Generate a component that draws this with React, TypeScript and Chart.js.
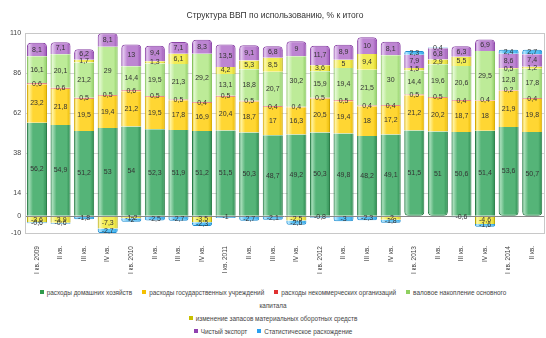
import React, { useEffect, useRef } from 'react';
import { Chart, registerables } from 'chart.js';

Chart.register(...registerables);
Chart.defaults.font.family = '"Liberation Sans", Arial, sans-serif';

const categories = ['I кв. 2009', 'II кв.', 'III кв.', 'IV кв.', 'I кв. 2010', 'II кв.', 'III кв.', 'IV кв.', 'I кв. 2011', 'II кв.', 'III кв.', 'IV кв.', 'I кв. 2012', 'II кв.', 'III кв.', 'IV кв.', 'I кв. 2013', 'II кв.', 'III кв.', 'IV кв.', 'I кв. 2014', 'II кв.'];

const households = [56.2, 54.9, 51.2, 53, 54, 52.3, 51.9, 51.2, 51.5, 50.3, 48.7, 49.2, 50.3, 49.8, 48.2, 49.1, 51.5, 51, 50.6, 51.4, 53.6, 50.7];
const government = [23.2, 21.8, 19.5, 19.4, 21.2, 19.5, 17.8, 16.9, 20.4, 18.7, 17, 16.3, 20.5, 19.4, 18, 17.2, 21.2, 20.2, 18.7, 18, 21.9, 19.8];
const nonprofit = [0.6, 0.6, 0.5, 0.5, 0.6, 0.5, 0.5, 0.4, 0.5, 0.5, 0.4, 0.4, 0.5, 0.5, 0.4, 0.4, 0.5, 0.5, 0.4, 0.4, 0.2, 0.4];
const fixedCapital = [16.1, 20.1, 21.2, 29, 14.4, 19.5, 21.3, 29.2, 13.1, 18.8, 20.7, 30.2, 15.9, 19.4, 21.5, 30, 14.4, 19.6, 20.6, 29.5, 12.8, 17.8];
const inventories = [-3.6, -3.9, 1.7, -7.3, -1.2, 1.3, 6.1, -3.5, 4.2, 5.3, 8.5, -2.5, 3.6, 5, 9.4, -2.0, 1.5, 2.9, 5.5, -4.6, 0.5, 1.2];
const netExports = [8.1, 7.1, 6.2, 8.1, 13, 9.4, 7.1, 8.3, 13.5, 9.1, 6.8, 9, 11.7, 8.9, 10, 8.1, 7.9, 6.8, 6.3, 6.9, 8.6, 7.4];
const discrepancy = [-0.6, -0.6, -1.8, -2.7, -2.0, -2.5, -2.7, -2.3, -1.0, -2.7, -2.1, -2.6, -0.8, -3.0, -2.3, -1.8, 2.3, 0.4, -0.6, -1.6, 2.4, 2.7];

const yTicks = [-10, 0, 14, 38, 62, 86, 110];

const seriesNames = [
  'расходы домашних хозяйств',
  'расходы государственных учреждений',
  'расходы некоммерческих организаций',
  'валовое накопление основного капитала',
  'изменение запасов материальных оборотных средств',
  'Чистый экспорт',
  'Статистическое расхождение',
];

// [edge, mid, highlight, border, legend]
const palettes: string[][] = [
  ['#2c8a50', '#55b478', '#a6ddb9', '#267a44', '#2f9a4a'],
  ['#e8b800', '#ffd633', '#fff3a0', '#d4a900', '#f5c000'],
  ['#c01818', '#e23030', '#f08080', '#b01010', '#e03030'],
  ['#8ccc62', '#bdeb98', '#e4f9d2', '#86c25c', '#8fd060'],
  ['#d8cc20', '#f2ec55', '#fbf8b0', '#b0a400', '#c8c000'],
  ['#9a52b4', '#bd85d2', '#e3c8ef', '#8a44a6', '#9040b0'],
  ['#2a9ee0', '#55bff5', '#b4e6ff', '#1c8cd0', '#2aa0f0'],
];

const seriesData = [households, government, nonprofit, fixedCapital, inventories, netExports, discrepancy];

function makeBg(p: string[]) {
  return (ctx: any) => {
    const chart = ctx.chart;
    const xs = chart.scales && chart.scales.x;
    if (!xs || ctx.type !== 'data' || !chart.chartArea) return p[1];
    const x = xs.getPixelForValue(ctx.dataIndex);
    const w = (xs.width / categories.length) * 0.85;
    const g = chart.ctx.createLinearGradient(x - w / 2, 0, x + w / 2, 0);
    g.addColorStop(0, p[0]);
    g.addColorStop(0.1, p[2]);
    g.addColorStop(0.3, p[1]);
    g.addColorStop(0.8, p[1]);
    g.addColorStop(1, p[0]);
    return g;
  };
}

const labelPlugin = {
  id: 'segLabels',
  afterDatasetsDraw(chart: any) {
    const ctx = chart.ctx;
    ctx.save();
    ctx.font = '7px "Liberation Sans", Arial, sans-serif';
    ctx.fillStyle = '#333';
    ctx.textAlign = 'center';
    ctx.textBaseline = 'middle';
    chart.data.datasets.forEach((ds: any, di: number) => {
      const meta = chart.getDatasetMeta(di);
      meta.data.forEach((bar: any, i: number) => {
        const v = ds.data[i];
        if (v == null || v === 0) return;
        const { x, y, base } = bar.getProps(['x', 'y', 'base'], true);
        ctx.fillText(String(v).replace('.', ','), x, (y + base) / 2);
      });
    });
    ctx.restore();
  },
};

const framePlugin = {
  id: 'frame',
  beforeDatasetsDraw(chart: any) {
    const { ctx, chartArea: a } = chart;
    ctx.save();
    ctx.strokeStyle = '#c8c8c8';
    ctx.lineWidth = 1;
    ctx.strokeRect(Math.round(a.left) + 0.5, Math.round(a.top) + 0.5, Math.round(a.right - a.left), Math.round(a.bottom - a.top));
    ctx.restore();
  },
};

const Marker = ({ color }: { color: string }) => (
  <span style={{ display: 'inline-block', width: 4, height: 4, background: color, marginRight: 3, verticalAlign: 'middle', position: 'relative', top: -1 }} />
);

export default function App() {
  const ref = useRef<HTMLCanvasElement | null>(null);
  useEffect(() => {
    if (!ref.current) return;
    const chart = new Chart(ref.current, {
      type: 'bar',
      data: {
        labels: categories,
        datasets: seriesData.map((d, i) => ({
          label: seriesNames[i],
          data: d,
          backgroundColor: makeBg(palettes[i]),
          borderColor: palettes[i][3],
          borderWidth: 1,
          borderRadius: 4,
          borderSkipped: 'middle' as any,
          barPercentage: 0.85,
          categoryPercentage: 1,
        })),
      },
      options: {
        animation: false,
        responsive: true,
        maintainAspectRatio: false,
        layout: { padding: { left: 6, right: 2, top: 0, bottom: 7 } },
        plugins: {
          legend: { display: false },
          tooltip: { enabled: false },
          title: {
            display: true,
            text: 'Структура ВВП по использованию, % к итого',
            color: '#333',
            font: { size: 8.5, weight: 'normal' },
            padding: { top: 11, bottom: 12 },
          },
        },
        scales: {
          x: {
            stacked: true,
            grid: { display: false },
            border: { display: false },
            ticks: { autoSkip: false, maxRotation: 90, minRotation: 90, color: '#444', font: { size: 6.5 }, padding: 5 },
          },
          y: {
            stacked: true,
            min: -10,
            max: 110,
            afterBuildTicks: (scale: any) => {
              scale.ticks = yTicks.map((v) => ({ value: v }));
            },
            grid: {
              drawTicks: false,
              color: (c: any) => (c.tick && c.tick.value === 0 ? '#888' : '#d4d4d4'),
            },
            border: { display: false },
            ticks: { color: '#444', font: { size: 7 }, padding: 4 },
          },
        },
      },
      plugins: [framePlugin, labelPlugin],
    });
    return () => chart.destroy();
  }, []);

  const legendText: React.CSSProperties = { fontFamily: '"Liberation Sans", Arial, sans-serif', fontSize: 6.4, color: '#444', whiteSpace: 'nowrap' };
  const row = (top: number): React.CSSProperties => ({ position: 'absolute', left: 0, width: 546, top, textAlign: 'center', lineHeight: '10px', ...legendText });
  const item: React.CSSProperties = { margin: '0 5px' };

  return (
    <div style={{ position: 'absolute', left: 0, top: 0, width: 546, height: 338, background: '#fff', overflow: 'hidden' }}>
      <div style={{ position: 'absolute', left: 0, top: 0, width: 546, height: 286 }}>
        <canvas ref={ref} />
      </div>
      <div style={row(288)}>
        <span style={item}><Marker color={palettes[0][4]} />{seriesNames[0]}</span>
        <span style={item}><Marker color={palettes[1][4]} />{seriesNames[1]}</span>
        <span style={item}><Marker color={palettes[2][4]} />{seriesNames[2]}</span>
        <span style={item}><Marker color={palettes[3][4]} />валовое накопление основного</span>
      </div>
      <div style={row(301)}>капитала</div>
      <div style={row(314)}>
        <span style={item}><Marker color={palettes[4][4]} />{seriesNames[4]}</span>
      </div>
      <div style={row(327)}>
        <span style={item}><Marker color={palettes[5][4]} />{seriesNames[5]}</span>
        <span style={item}><Marker color={palettes[6][4]} />{seriesNames[6]}</span>
      </div>
    </div>
  );
}
